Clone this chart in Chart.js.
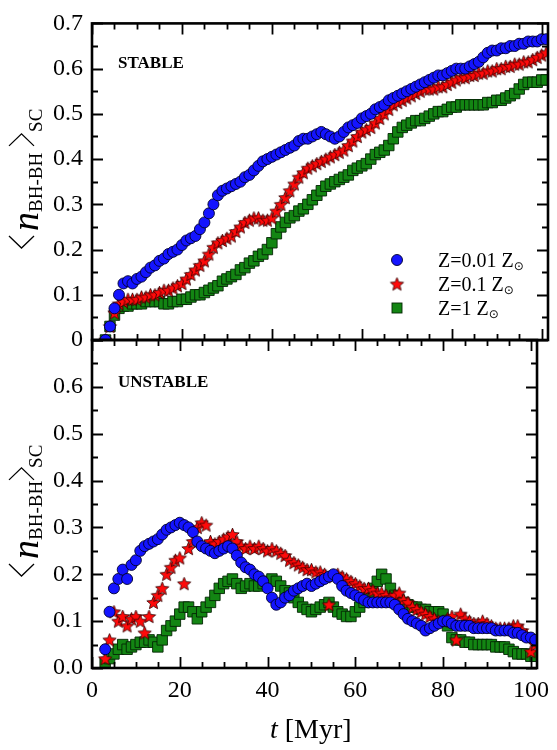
<!DOCTYPE html>
<html>
<head>
<meta charset="utf-8">
<script src="https://cdn.jsdelivr.net/npm/chart.js@4.4.1/dist/chart.umd.min.js"></script>
<style>
  html, body { margin: 0; padding: 0; background: #fff; }
  #wrap { position: relative; width: 557px; height: 750px; }
  canvas { position: absolute; left: 0; top: 0; }
</style>
</head>
<body>
<div id="wrap">
  <canvas id="topChart" width="557" height="750"></canvas>
  <canvas id="bottomChart" width="557" height="750"></canvas>
</div>
<script>
// time samples [Myr]
const times = [3,4,5,6,7,8,9,10,11,12,13,14,15,16,17,18,19,20,21,22,23,24,25,26,27,28,29,30,31,32,
  33,34,35,36,37,38,39,40,41,42,43,44,45,46,47,48,49,50,51,52,53,54,55,56,57,58,59,60,61,62,
  63,64,65,66,67,68,69,70,71,72,73,74,75,76,77,78,79,80,81,82,83,84,85,86,87,88,89,90,91,92,
  93,94,95,96,97,98,99,100,101];

// STABLE panel
const stableZ001 = [0.0,0.03,0.07,0.10,0.125,0.13,0.125,0.135,0.14,0.15,
  0.16,0.165,0.175,0.18,0.19,0.195,0.20,0.21,0.22,0.225,
  0.23,0.245,0.26,0.28,0.30,0.32,0.33,0.335,0.34,0.345,
  0.35,0.36,0.365,0.375,0.385,0.395,0.40,0.405,0.41,0.415,
  0.42,0.425,0.43,0.44,0.445,0.445,0.45,0.455,0.46,0.455,
  0.45,0.445,0.45,0.46,0.47,0.475,0.48,0.49,0.495,0.50,
  0.51,0.515,0.52,0.53,0.535,0.54,0.545,0.55,0.555,0.56,
  0.565,0.57,0.575,0.58,0.585,0.585,0.59,0.595,0.60,0.60,
  0.60,0.605,0.61,0.615,0.625,0.635,0.64,0.64,0.645,0.645,
  0.65,0.65,0.655,0.655,0.66,0.66,0.66,0.665,0.665];
const stableZ01 = [0.0,0.03,0.06,0.08,0.085,0.09,0.09,0.09,0.095,0.095,
  0.10,0.10,0.105,0.11,0.11,0.115,0.12,0.125,0.135,0.145,
  0.155,0.165,0.175,0.19,0.205,0.215,0.22,0.225,0.23,0.24,
  0.25,0.26,0.265,0.27,0.27,0.265,0.265,0.27,0.285,0.30,
  0.315,0.33,0.345,0.36,0.37,0.38,0.385,0.39,0.395,0.40,
  0.405,0.41,0.415,0.42,0.43,0.44,0.45,0.46,0.465,0.47,
  0.48,0.49,0.50,0.51,0.52,0.525,0.53,0.535,0.54,0.545,
  0.55,0.555,0.555,0.555,0.56,0.56,0.565,0.57,0.575,0.58,
  0.58,0.585,0.585,0.59,0.59,0.595,0.595,0.60,0.60,0.605,
  0.605,0.61,0.61,0.615,0.615,0.62,0.625,0.63,0.635];
const stableZ1 = [0.0,0.03,0.055,0.07,0.075,0.075,0.08,0.08,0.08,0.085,
  0.085,0.085,0.085,0.08,0.08,0.085,0.085,0.09,0.09,0.095,
  0.10,0.10,0.105,0.11,0.115,0.12,0.13,0.135,0.14,0.145,
  0.155,0.16,0.17,0.175,0.185,0.19,0.20,0.215,0.235,0.25,
  0.26,0.27,0.275,0.285,0.29,0.30,0.31,0.32,0.33,0.34,
  0.345,0.35,0.355,0.36,0.365,0.375,0.38,0.385,0.39,0.40,
  0.41,0.415,0.42,0.43,0.445,0.46,0.47,0.475,0.48,0.485,
  0.485,0.49,0.495,0.50,0.505,0.505,0.51,0.515,0.515,0.52,
  0.52,0.52,0.52,0.52,0.52,0.525,0.525,0.53,0.53,0.535,
  0.54,0.545,0.555,0.565,0.57,0.57,0.57,0.575,0.575];

// UNSTABLE panel
const unstableZ001 = [0.04,0.12,0.17,0.19,0.21,0.19,0.22,0.23,0.25,0.26,
  0.265,0.27,0.275,0.285,0.295,0.30,0.305,0.31,0.305,0.30,
  0.29,0.27,0.26,0.255,0.25,0.245,0.25,0.255,0.26,0.255,
  0.24,0.225,0.215,0.21,0.20,0.195,0.185,0.17,0.15,0.135,
  0.14,0.15,0.155,0.165,0.17,0.175,0.18,0.175,0.18,0.185,
  0.19,0.195,0.20,0.19,0.175,0.165,0.16,0.155,0.15,0.145,
  0.14,0.14,0.14,0.14,0.14,0.14,0.135,0.125,0.115,0.105,
  0.10,0.095,0.09,0.08,0.085,0.09,0.095,0.10,0.10,0.095,
  0.09,0.09,0.09,0.09,0.085,0.085,0.085,0.085,0.085,0.08,
  0.08,0.08,0.08,0.075,0.075,0.07,0.065,0.065,0.06];
const unstableZ01 = [0.02,0.06,0.12,0.10,0.11,0.09,0.105,0.11,0.10,0.075,
  0.11,0.14,0.155,0.17,0.20,0.215,0.23,0.235,0.18,0.255,
  0.27,0.30,0.31,0.305,0.27,0.265,0.27,0.275,0.28,0.285,
  0.27,0.26,0.255,0.26,0.255,0.26,0.255,0.25,0.255,0.25,
  0.245,0.24,0.23,0.225,0.22,0.215,0.21,0.21,0.205,0.205,
  0.20,0.135,0.195,0.20,0.195,0.19,0.185,0.18,0.175,0.17,
  0.17,0.165,0.16,0.16,0.155,0.15,0.155,0.16,0.145,0.14,
  0.13,0.125,0.12,0.115,0.11,0.105,0.10,0.10,0.105,0.11,
  0.06,0.115,0.105,0.10,0.095,0.095,0.10,0.095,0.09,0.085,
  0.085,0.085,0.085,0.09,0.09,0.08,0.07,0.035,0.05];
const unstableZ1 = [0.01,0.02,0.03,0.04,0.05,0.04,0.045,0.05,0.055,0.055,
  0.06,0.055,0.045,0.06,0.08,0.09,0.10,0.115,0.13,0.13,
  0.12,0.105,0.12,0.13,0.14,0.155,0.17,0.18,0.185,0.19,
  0.18,0.17,0.175,0.18,0.175,0.175,0.18,0.185,0.19,0.185,
  0.175,0.165,0.16,0.15,0.14,0.13,0.125,0.12,0.125,0.13,
  0.135,0.14,0.13,0.12,0.115,0.11,0.11,0.12,0.13,0.14,
  0.155,0.17,0.185,0.20,0.19,0.17,0.155,0.145,0.14,0.135,
  0.13,0.13,0.125,0.125,0.12,0.12,0.12,0.115,0.09,0.065,
  0.06,0.06,0.055,0.055,0.05,0.05,0.05,0.05,0.05,0.045,
  0.045,0.045,0.04,0.035,0.03,0.03,0.03,0.025,0.025];

const seriesLabels = ["Z=0.01 Z", "Z=0.1 Z", "Z=1 Z"];
const xTicks = [0, 20, 40, 60, 80, 100];
const yTicksTop = [0, 0.1, 0.2, 0.3, 0.4, 0.5, 0.6, 0.7];
const yTicksBottom = [0, 0.1, 0.2, 0.3, 0.4, 0.5, 0.6];

const SERIF = "'Liberation Serif', 'Times New Roman', serif";
Chart.defaults.font.family = SERIF;

const BLUE = "#1414ff", GREEN = "#138513", RED = "#ff0a0a";

// filled five-pointed star used as point style
function makeStar(r) {
  const c = document.createElement("canvas");
  const s = Math.ceil(r * 2 + 3);
  c.width = s; c.height = s;
  const g = c.getContext("2d");
  g.translate(s / 2, s / 2 + 0.6);
  g.beginPath();
  for (let i = 0; i < 10; i++) {
    const rr = i % 2 ? r * 0.45 : r;
    const ang = -Math.PI / 2 + i * Math.PI / 5;
    g.lineTo(rr * Math.cos(ang), rr * Math.sin(ang));
  }
  g.closePath();
  g.fillStyle = RED;
  g.fill();
  g.lineWidth = 0.8;
  g.strokeStyle = "#300000";
  g.stroke();
  return c;
}
const starImg = makeStar(7);

function pts(values) {
  return values.map((v, i) => ({ x: times[i], y: v }));
}

function makeDatasets(z001, z01, z1) {
  return [
    { label: seriesLabels[0], data: pts(z001), pointStyle: "circle", pointRadius: 5.5,
      backgroundColor: BLUE, borderColor: "#00002a", borderWidth: 0.9 },
    { label: seriesLabels[1], data: pts(z01), pointStyle: starImg, pointRadius: 6,
      backgroundColor: RED, borderColor: "#300000", borderWidth: 0.8 },
    { label: seriesLabels[2], data: pts(z1), pointStyle: "rect", pointRadius: 7.4,
      backgroundColor: GREEN, borderColor: "#042604", borderWidth: 0.9 },
  ];
}

// frame, inward ticks and panel texts
const framePlugin = {
  id: "framePlugin",
  afterDatasetsDraw(chart, args, opts) {
    const { ctx, chartArea: a } = chart;
    const xs = chart.scales.x, ys = chart.scales.y;
    ctx.save();
    ctx.strokeStyle = "#000";
    ctx.lineWidth = 1.8;
    ctx.beginPath();
    for (let v = 0; v <= xs.max; v += 5) {
      const px = Math.round(xs.getPixelForValue(v)) + 0.5;
      const len = v % 20 === 0 ? 11 : 6;
      ctx.moveTo(px, a.bottom); ctx.lineTo(px, a.bottom - len);
      ctx.moveTo(px, a.top); ctx.lineTo(px, a.top + len);
    }
    for (let k = 0; k <= 14; k++) {
      const v = k * 0.05;
      const py = Math.round(ys.getPixelForValue(v)) + 0.5;
      const len = k % 2 === 0 ? 11 : 6;
      ctx.moveTo(a.left, py); ctx.lineTo(a.left + len, py);
      ctx.moveTo(a.right, py); ctx.lineTo(a.right - len, py);
    }
    ctx.stroke();
    ctx.lineWidth = 2.6;
    ctx.strokeRect(a.left, a.top, a.right - a.left, a.bottom - a.top);

    ctx.fillStyle = "#000";
    ctx.font = "bold 17px " + SERIF;
    ctx.textBaseline = "alphabetic";
    ctx.fillText(opts.title, a.left + 26, a.top + opts.titleDy);

    drawYLabel(ctx, 38, opts.labelStart, opts.tight);
    if (opts.legend) drawLegend(ctx);
    if (opts.xTitle) drawXTitle(ctx);
    ctx.restore();
  }
};

function bracket(ctx, x, w, left) {
  ctx.beginPath();
  if (left) {
    ctx.moveTo(x + w, -29); ctx.lineTo(x, -16.5); ctx.lineTo(x + w, -4);
  } else {
    ctx.moveTo(x, -29); ctx.lineTo(x + w, -16.5); ctx.lineTo(x, -4);
  }
  ctx.stroke();
}

function drawYLabel(ctx, baseX, startY, tight) {
  ctx.save();
  ctx.translate(baseX, startY);
  ctx.rotate(-Math.PI / 2);
  ctx.fillStyle = "#000";
  ctx.strokeStyle = "#000";
  ctx.lineWidth = 1.3;
  ctx.textBaseline = "alphabetic";
  let x = 0;
  bracket(ctx, x, 12, true);
  x += 12 + 5;
  ctx.font = "italic 38px " + SERIF;
  ctx.fillText("n", x, 0);
  x += ctx.measureText("n").width;
  ctx.font = "19px " + SERIF;
  ctx.fillText("BH-BH", x, 4);
  x += ctx.measureText("BH-BH").width + (tight ? 1 : 7);
  bracket(ctx, x, 12, false);
  x += 12 + (tight ? 0 : 2);
  ctx.fillText("SC", x, 4);
  ctx.restore();
}

function drawLegend(ctx) {
  const mx = 397, tx = 438, rows = [260, 284, 308];
  ctx.save();
  // circle
  ctx.beginPath();
  ctx.arc(mx, rows[0], 5.5, 0, Math.PI * 2);
  ctx.fillStyle = BLUE; ctx.fill();
  ctx.lineWidth = 0.9; ctx.strokeStyle = "#00002a"; ctx.stroke();
  // star
  ctx.drawImage(starImg, mx - starImg.width / 2, rows[1] - starImg.height / 2);
  // square
  ctx.fillStyle = GREEN; ctx.strokeStyle = "#042604";
  ctx.fillRect(mx - 5, rows[2] - 5, 10, 10);
  ctx.strokeRect(mx - 5, rows[2] - 5, 10, 10);

  ctx.fillStyle = "#000";
  rows.forEach((y, i) => {
    ctx.font = "20px " + SERIF;
    ctx.fillText(seriesLabels[i], tx, y + 7);
    const w = ctx.measureText(seriesLabels[i]).width;
    ctx.font = "12px 'DejaVu Sans'";
    ctx.fillText("\u2299", tx + w, y + 10);
  });
  ctx.restore();
}

function drawXTitle(ctx) {
  ctx.save();
  ctx.fillStyle = "#000";
  ctx.textBaseline = "alphabetic";
  ctx.font = "italic 28px " + SERIF;
  const x0 = 270;
  ctx.fillText("t", x0, 738);
  const w = ctx.measureText("t").width;
  ctx.font = "28px " + SERIF;
  ctx.fillText(" [Myr]", x0 + w, 738);
  ctx.restore();
}

function panelOptions(cfg) {
  return {
    responsive: false,
    animation: false,
    devicePixelRatio: 1,
    layout: { padding: cfg.padding },
    plugins: {
      legend: { display: false },
      tooltip: { enabled: false },
      framePlugin: cfg.frame,
    },
    scales: {
      x: {
        type: "linear",
        min: 0,
        max: 101.4,
        display: cfg.showX,
        afterBuildTicks: (s) => { s.ticks = xTicks.map((v) => ({ value: v })); },
        afterFit: (s) => { if (cfg.showX) s.height = 82; },
        grid: { display: false, drawTicks: false },
        border: { display: false },
        ticks: { color: "#000", padding: 8, maxRotation: 0, font: { family: SERIF, size: 24 } },
      },
      y: {
        type: "linear",
        min: 0,
        max: 0.7,
        afterBuildTicks: (s) => { s.ticks = cfg.yTicks.map((v) => ({ value: v })); },
        afterFit: (s) => { s.width = 92; },
        grid: { display: false, drawTicks: false },
        border: { display: false },
        ticks: { color: "#000", padding: 9, font: { family: SERIF, size: 24 }, callback: cfg.yFormat },
      },
    },
  };
}

new Chart(document.getElementById("topChart"), {
  type: "scatter",
  data: { datasets: makeDatasets(stableZ001, stableZ01, stableZ1) },
  options: panelOptions({
    padding: { top: 15, right: 9, bottom: 410, left: 0 },
    showX: false,
    yTicks: yTicksTop,
    yFormat: (v) => (v === 0 ? "0" : v.toFixed(1)),
    frame: { title: "STABLE", titleDy: 45, labelStart: 248, tight: false, legend: true },
  }),
  plugins: [framePlugin],
});

new Chart(document.getElementById("bottomChart"), {
  type: "scatter",
  data: { datasets: makeDatasets(unstableZ001, unstableZ01, unstableZ1) },
  options: panelOptions({
    padding: { top: 340, right: 9, bottom: 0, left: 0 },
    showX: true,
    yTicks: yTicksBottom,
    yFormat: (v) => v.toFixed(1),
    frame: { title: "UNSTABLE", titleDy: 47, labelStart: 576, tight: true, xTitle: true },
  }),
  plugins: [framePlugin],
});
</script>
</body>
</html>
